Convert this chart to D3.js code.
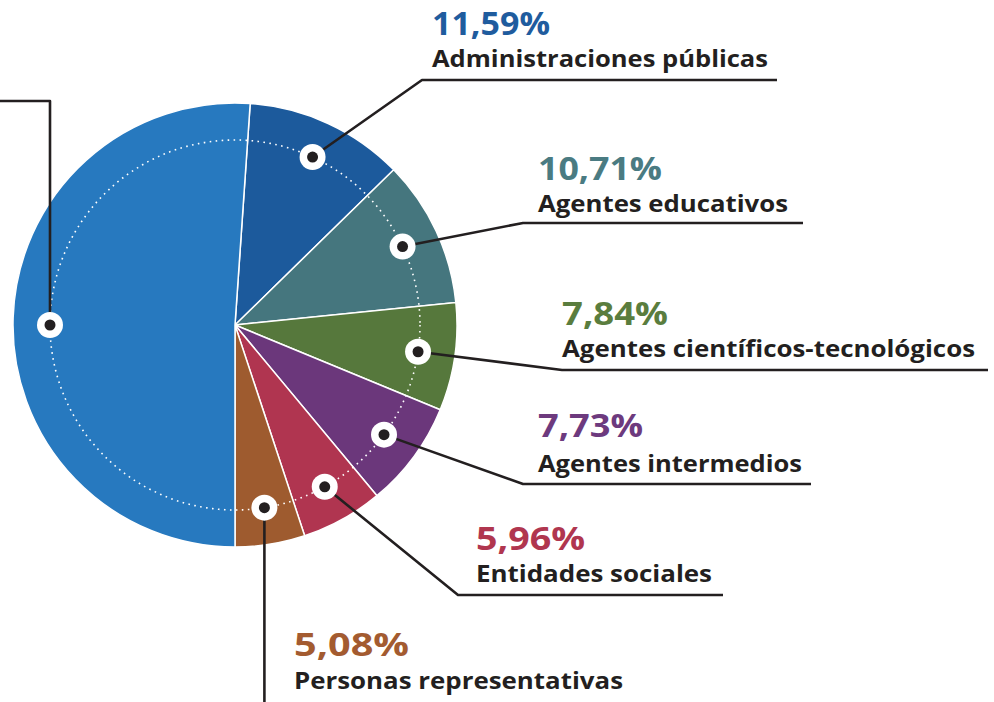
<!DOCTYPE html>
<html>
<head>
<meta charset="utf-8">
<script src="https://cdn.jsdelivr.net/npm/d3@7"></script>
<style>
  body { margin: 0; background: #fff; }
  svg { display: block; }
</style>
</head>
<body>
<div id="chart"></div>
<script>
// Data
var categories = ["Administraciones públicas", "Agentes educativos", "Agentes científicos-tecnológicos",
                  "Agentes intermedios", "Entidades sociales", "Personas representativas"];
var values = [11.59, 10.71, 7.84, 7.73, 5.96, 5.08];
var pctLabels = ["11,59%", "10,71%", "7,84%", "7,73%", "5,96%", "5,08%"];
var otherValue = 51.09;   // big slice, its label lies outside the picture
var sliceColors = ["#1c5a9c", "#45767e", "#56783c", "#6b377b", "#b03550", "#9e5b2f"];
var textColors  = ["#1f5c9e", "#4a7b82", "#5a7d3e", "#6d3a7e", "#b0364f", "#a35b30"];
var otherColor = "#2779bf";

var width = 994, height = 702;
var cx = 235, cy = 325, radius = 222, dotRadius = 185;
var ink = "#231f20";

// label layout: elbow of the leader, end of the underline, text x, baselines, text widths
var layout = [
  {ex: 422, ey: 80,  end: 777, tx: 432, pctY: 35,  labY: 67,  pctW: 118, labW: 336},
  {ex: 523, ey: 223, end: 803, tx: 538, pctY: 180, labY: 212, pctW: 124, labW: 250},
  {ex: 562, ey: 370, end: 988, tx: 562, pctY: 325, labY: 357, pctW: 106, labW: 413},
  {ex: 523, ey: 484, end: 811, tx: 538, pctY: 437, labY: 472, pctW: 105, labW: 264},
  {ex: 458, ey: 595, end: 723, tx: 476, pctY: 550, labY: 582, pctW: 109, labW: 236},
  {vertical: true,              tx: 294, pctY: 656, labY: 689, pctW: 115, labW: 329}
];

var dataset = categories.map(function(c, i) {
  return {name: c, value: values[i], pct: pctLabels[i], idx: i};
});
dataset.push({name: "other", value: otherValue, idx: -1});

var color = d3.scaleOrdinal()
  .domain(categories.concat(["other"]))
  .range(sliceColors.concat([otherColor]));
var textColor = d3.scaleOrdinal().domain(categories).range(textColors);

var smallSum = d3.sum(values);
var start = Math.PI - smallSum / 100 * 2 * Math.PI;

var pie = d3.pie()
  .sort(null)
  .value(function(d) { return d.value; })
  .startAngle(start)
  .endAngle(start + 2 * Math.PI);

var arcs = pie(dataset);

var arc = d3.arc().innerRadius(0).outerRadius(radius);

var svg = d3.select("#chart")
  .append("svg")
  .attr("width", width)
  .attr("height", height);

var g = svg.append("g").attr("transform", "translate(" + cx + "," + cy + ")");

// slices
g.selectAll("path.slice")
  .data(arcs)
  .enter()
  .append("path")
  .attr("class", "slice")
  .attr("d", arc)
  .attr("fill", function(d) { return color(d.data.name); })
  .attr("stroke", "#fff")
  .attr("stroke-width", 1.5);

// dotted guide circle
g.append("circle")
  .attr("r", dotRadius)
  .attr("fill", "none")
  .attr("stroke", "#fff")
  .attr("stroke-width", 1.6)
  .attr("stroke-dasharray", "1.6,4.4");

// dot position for each slice
function dotPos(d) {
  var a = d.data.idx < 0 ? 1.5 * Math.PI : (d.startAngle + d.endAngle) / 2;
  return [cx + dotRadius * Math.sin(a), cy - dotRadius * Math.cos(a)];
}

// leader lines
svg.selectAll("path.leader")
  .data(arcs)
  .enter()
  .append("path")
  .attr("class", "leader")
  .attr("fill", "none")
  .attr("stroke", ink)
  .attr("stroke-width", 2.6)
  .attr("stroke-linejoin", "round")
  .attr("d", function(d) {
    var p = dotPos(d);
    if (d.data.idx < 0) {
      return "M" + p[0] + "," + p[1] + "L" + p[0] + ",101L-10,101";
    }
    var l = layout[d.data.idx];
    if (l.vertical) {
      return "M" + p[0] + "," + p[1] + "L" + p[0] + "," + (height + 10);
    }
    return "M" + p[0] + "," + p[1] + "L" + l.ex + "," + l.ey + "L" + l.end + "," + l.ey;
  });

// marker dots
var dots = svg.selectAll("g.dot")
  .data(arcs)
  .enter()
  .append("g")
  .attr("class", "dot")
  .attr("transform", function(d) { return "translate(" + dotPos(d) + ")"; });

dots.append("circle").attr("r", 13).attr("fill", "#fff");
dots.append("circle").attr("r", 5.5).attr("fill", ink);

// labels
var labelData = dataset.filter(function(d) { return d.idx >= 0; });

var labels = svg.selectAll("g.label")
  .data(labelData)
  .enter()
  .append("g")
  .attr("class", "label");

labels.append("text")
  .text(function(d) { return d.pct; })
  .attr("x", function(d) { return layout[d.idx].tx; })
  .attr("y", function(d) { return layout[d.idx].pctY; })
  .attr("textLength", function(d) { return layout[d.idx].pctW; })
  .attr("lengthAdjust", "spacingAndGlyphs")
  .attr("font-family", "'Open Sans', sans-serif")
  .attr("font-size", "33px")
  .attr("font-weight", "bold")
  .attr("fill", function(d) { return textColor(d.name); });

labels.append("text")
  .text(function(d) { return d.name; })
  .attr("x", function(d) { return layout[d.idx].tx; })
  .attr("y", function(d) { return layout[d.idx].labY; })
  .attr("textLength", function(d) { return layout[d.idx].labW; })
  .attr("lengthAdjust", "spacingAndGlyphs")
  .attr("font-family", "'Open Sans', sans-serif")
  .attr("font-size", "24px")
  .attr("font-weight", "bold")
  .attr("fill", ink);
</script>
</body>
</html>
